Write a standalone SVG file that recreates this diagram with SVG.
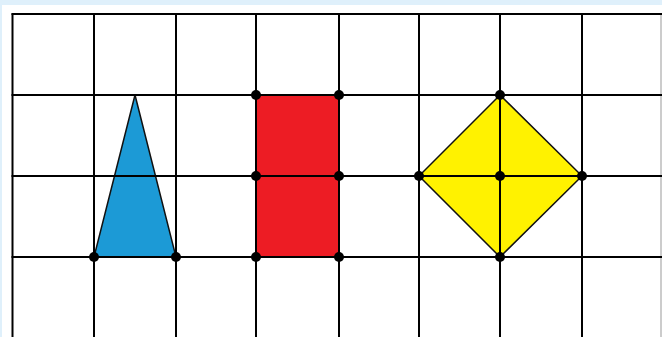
<svg xmlns="http://www.w3.org/2000/svg" width="662" height="337" viewBox="0 0 662 337">
<style>
.grid{stroke:#000;stroke-width:2;fill:none}
.dot{fill:#000}
.edge{stroke:#111;stroke-width:1.5;stroke-linejoin:round}
</style>
<rect x="0" y="0" width="662" height="337" fill="#dff0fb"/>
<rect x="2" y="5" width="660" height="332" fill="#fff"/>
<g id="triangle"><polygon class="edge" points="135,95 94,257 176,257" fill="#1c9ad6"/></g>
<g id="rectangle"><rect class="edge" x="256" y="95" width="83" height="162" rx="5" fill="#ed1c24"/></g>
<g id="diamond"><polygon class="edge" points="500,95 582,176 500,257 419,176" fill="#fff200"/></g>
<g id="grid" class="grid">
<line x1="12.5" y1="13.5" x2="12.5" y2="337"/>
<line x1="94" y1="13.5" x2="94" y2="337"/>
<line x1="176" y1="13.5" x2="176" y2="337"/>
<line x1="256" y1="13.5" x2="256" y2="337"/>
<line x1="339" y1="13.5" x2="339" y2="337"/>
<line x1="419" y1="13.5" x2="419" y2="337"/>
<line x1="500" y1="13.5" x2="500" y2="337"/>
<line x1="582" y1="13.5" x2="582" y2="337"/>
<line x1="661" y1="13.5" x2="661" y2="337" stroke="#999" stroke-width="1"/>
<line x1="11.5" y1="14" x2="662" y2="14"/>
<line x1="11.5" y1="95" x2="662" y2="95"/>
<line x1="11.5" y1="176" x2="662" y2="176"/>
<line x1="11.5" y1="257" x2="662" y2="257"/>
</g>
<g id="dots" class="dot">
<circle cx="94" cy="257" r="5"/><circle cx="176" cy="257" r="5"/>
<circle cx="256" cy="95" r="5"/><circle cx="339" cy="95" r="5"/>
<circle cx="256" cy="176" r="5"/><circle cx="339" cy="176" r="5"/>
<circle cx="256" cy="257" r="5"/><circle cx="339" cy="257" r="5"/>
<circle cx="500" cy="95" r="5"/><circle cx="419" cy="176" r="5"/>
<circle cx="500" cy="176" r="5"/><circle cx="582" cy="176" r="5"/>
<circle cx="500" cy="257" r="5"/>
</g>
</svg>
